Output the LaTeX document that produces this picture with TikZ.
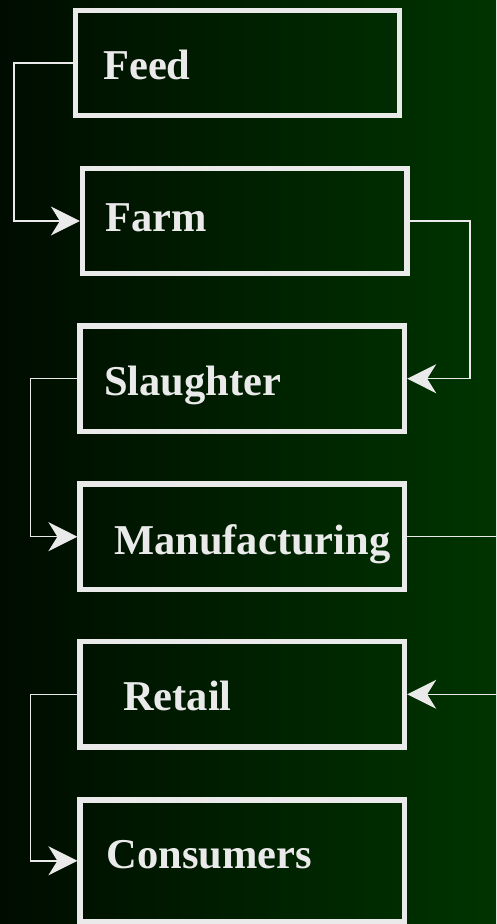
\documentclass[tikz,border=0pt]{standalone}
\usepackage{fontspec}
\setmainfont{Liberation Serif}
\usetikzlibrary{arrows.meta,positioning}

\definecolor{bgleft}{RGB}{0,12,0}
\definecolor{bgright}{RGB}{0,52,0}
\definecolor{chalk}{RGB}{234,234,234}

\begin{document}
\begin{tikzpicture}[x=1pt,y=-1pt,
  stage/.style={draw=chalk, line width=5.3pt, rectangle, minimum width=324.5pt, minimum height=105.5pt, inner sep=0},
  word/.style={anchor=base west, inner sep=0, text=chalk, font=\bfseries\fontsize{42.5}{50}\selectfont},
  flow/.style={draw=chalk, line width=1.5pt, -{Stealth[length=29pt,width=29pt,inset=9pt]}},
  link/.style={draw=chalk, line width=1.5pt}]

\shade[left color=bgleft, right color=bgright] (0,0) rectangle (496,924);
\useasboundingbox (0,0) rectangle (496,924);

% boxes
\node[stage] (feed) at (237.5,62.9) {};
\node[stage] (farm) at (244.8,221) {};
\node[stage] (slaughter) at (242.3,378.7) {};
\node[stage] (manuf) at (242.3,536.7) {};
\node[stage] (retail) at (242.3,694.3) {};
\node[stage, minimum height=121.7pt] (consumers) at (242.3,860.8) {};

% labels
\node[word] (feedtxt) at (103,79.3) {Feed};
\node[word] (farmtxt) at (105,231) {Farm};
\node[word] (slaughtertxt) at (104,395.2) {Slaughter};
\node[word] (manuftxt) at (114,554) {Manufacturing};
\node[word] (retailtxt) at (123,710.5) {Retail};
\node[word] (consumerstxt) at (106.5,868) {Consumers};

% connectors
\draw[flow] (feed.west) -- ++(-58.4,0) |- (farm.west);
\draw[flow] (farm.east) -- ++(60.4,0) |- (slaughter.east);
\draw[flow] (slaughter.west) -- ++(-46.7,0) |- (manuf.west);
\coordinate (manufout) at (496,536.7);
\draw[link] (manuf.east) -- (manufout);
\coordinate (retailin) at (496,694.3);
\draw[flow] (retailin) -- (retail.east);
\draw[flow] (retail.west) -- ++(-46.7,0) |- (consumers.west);
\end{tikzpicture}
\end{document}
